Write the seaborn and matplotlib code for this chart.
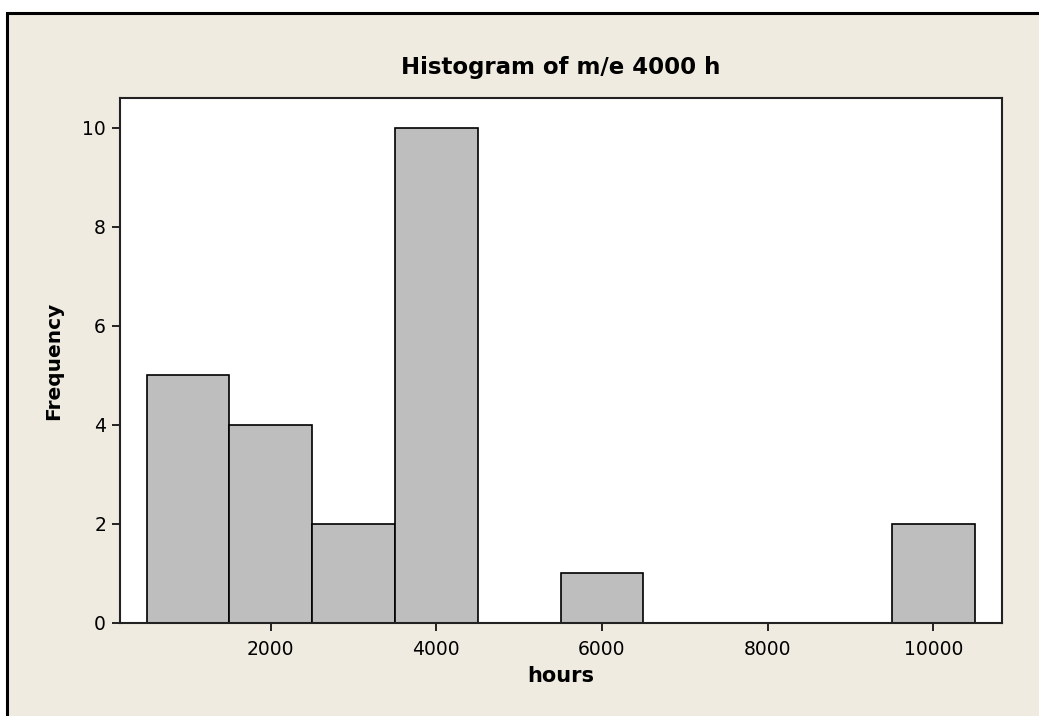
import numpy as np
import pandas as pd
import matplotlib
matplotlib.use("Agg")
import matplotlib.pyplot as plt
import seaborn as sns
from matplotlib.patches import Rectangle

# Data
bin_centers = [1000, 2000, 3000, 4000, 5000, 6000, 7000, 8000, 9000, 10000]
counts = [5, 4, 2, 10, 0, 1, 0, 0, 0, 2]
bin_edges = [500, 1500, 2500, 3500, 4500, 5500, 6500, 7500, 8500, 9500, 10500]
x_ticks = [2000, 4000, 6000, 8000, 10000]
y_ticks = [0, 2, 4, 6, 8, 10]

hours = np.repeat(bin_centers, counts)
df = pd.DataFrame({"hours": hours})

sns.set_style("white")
plt.rcParams["font.family"] = ["DejaVu Sans"]
plt.rcParams["text.color"] = "black"
plt.rcParams["axes.labelcolor"] = "black"

bg = "#EFEBE1"
fig = plt.figure(figsize=(10.39, 7.16), dpi=100)
fig.patch.set_facecolor("white")

# beige panel with black frame
panel = Rectangle((7 / 1039, -0.05), 1.1, (716 - 13) / 716 + 0.05,
                  transform=fig.transFigure, facecolor=bg, edgecolor="black",
                  linewidth=2.2, zorder=-10)
fig.patches.append(panel)

ax = fig.add_axes([120 / 1039, (716 - 623) / 716, (1002 - 120) / 1039, (623 - 98) / 716])
ax.set_facecolor("white")

sns.histplot(data=df, x="hours", bins=bin_edges, stat="count",
             color="#BEBEBE", edgecolor="black", linewidth=1.2, alpha=1,
             ax=ax)

ax.set_xlim(180, 10830)
ax.set_ylim(0, 10.6)
ax.set_xticks(x_ticks)
ax.set_yticks(y_ticks)
ax.tick_params(axis="both", direction="out", length=6, width=1.2,
               labelsize=13.5, colors="black", bottom=True, left=True, pad=4)
ax.tick_params(axis="x", pad=6)

for s in ax.spines.values():
    s.set_visible(True)
    s.set_color("#222222")
    s.set_linewidth(1.5)

ax.set_xlabel("hours", fontsize=15, fontweight="bold", labelpad=5, color="black")
ax.set_ylabel("Frequency", fontsize=14.5, fontweight="bold", labelpad=14, color="black")
ax.set_title("Histogram of m/e 4000 h", fontsize=16.5, fontweight="bold", pad=17,
             color="black")

fig.savefig("out.png", dpi=100, facecolor=fig.get_facecolor())
